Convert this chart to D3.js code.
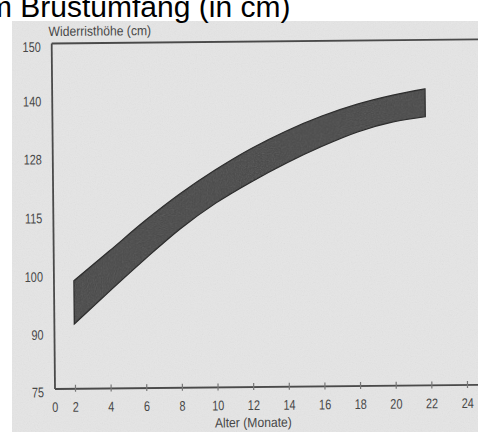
<!DOCTYPE html>
<html>
<head>
<meta charset="utf-8">
<script src="https://cdn.jsdelivr.net/npm/d3@7"></script>
<style>
  html, body { margin: 0; padding: 0; background: #ffffff; }
  svg { display: block; }
  .lbl { font-family: "Liberation Sans", Arial, sans-serif; fill: #484848; }
</style>
</head>
<body>
<svg id="chart" width="478" height="432"></svg>
<script>
// ---- data ----
const months = [2, 4, 6, 8, 10, 12, 14, 16, 18, 20, 21.8];
const upperHeight = [98.7, 105.6, 113.2, 119.4, 124.6, 129.1, 132.7, 135.7, 138.1, 139.9, 141.0];
const lowerHeight = [91.3, 96.9, 103.5, 111.2, 117.3, 121.9, 126.0, 129.5, 132.4, 134.4, 135.4];
const yTickValues = [150, 140, 128, 115, 100, 90, 75];
const xTickValues = [2, 4, 6, 8, 10, 12, 14, 16, 18, 20, 22, 24];
const titleText = "m Brustumfang (in cm)";
const yAxisTitle = "Widerristhöhe (cm)";
const xAxisTitle = "Alter (Monate)";

const band = months.map((m, i) => ({ m, lo: lowerHeight[i], hi: upperHeight[i] }));

const svg = d3.select("#chart");
const W = 478, H = 432;

// horizontally condensed text (the scan uses a narrow typeface)
function condense(sel, s) {
  sel.each(function () {
    const t = d3.select(this);
    const x0 = +(t.attr("x") || 0);
    t.attr("x", x0 / s).attr("transform", `scale(${s},1)`);
  });
}

// defs: grain noise
const defs = svg.append("defs");
const f = defs.append("filter").attr("id", "grain").attr("x", 0).attr("y", 0).attr("width", "100%").attr("height", "100%");
f.append("feTurbulence").attr("type", "fractalNoise").attr("baseFrequency", 0.85).attr("numOctaves", 2).attr("seed", 3);
f.append("feColorMatrix").attr("type", "saturate").attr("values", 0);

// scanned page background
svg.append("rect").attr("x", 12).attr("y", 21).attr("width", W - 12).attr("height", H - 21).attr("fill", "#e5e5e5");
svg.append("rect").attr("x", 12).attr("y", 21).attr("width", W - 12).attr("height", H - 21)
  .attr("filter", "url(#grain)").attr("opacity", 0.10);

// title (cropped web text)
svg.append("text")
  .attr("x", -13).attr("y", 17)
  .attr("font-family", "Liberation Sans, Arial, sans-serif")
  .attr("font-size", 30).attr("fill", "#000")
  .text(titleText);

// scales
const x = d3.scaleLinear().domain([0, 2, 24]).range([55, 75, 467]);
const y = d3.scaleLinear().domain([75, 90, 100, 115, 128, 140, 150])
  .range([389, 331.5, 273.5, 215, 156, 98, 43.5]);

const g = svg.append("g").attr("transform", "rotate(-0.55, 55, 389)");

// band
const area = d3.area()
  .x(d => x(d.m)).y0(d => y(d.lo)).y1(d => y(d.hi))
  .curve(d3.curveMonotoneX);

const cp = defs.append("clipPath").attr("id", "bandClip");
cp.append("path").datum(band).attr("d", area);

g.append("path").datum(band).attr("d", area)
  .attr("fill", "#454545").attr("stroke", "#2a2a2a").attr("stroke-width", 1.4);
g.append("rect").attr("x", 60).attr("y", 40).attr("width", 400).attr("height", 300)
  .attr("clip-path", "url(#bandClip)").attr("filter", "url(#grain)").attr("opacity", 0.22);

// frame lines
const frame = g.append("g").attr("stroke", "#4a4a4a").attr("stroke-width", 1.8).attr("fill", "none");
frame.append("line").attr("x1", 55).attr("x2", 55).attr("y1", y(150)).attr("y2", y(75));
frame.append("line").attr("x1", 55).attr("x2", 485).attr("y1", y(150)).attr("y2", y(150));
frame.append("line").attr("x1", 55).attr("x2", 485).attr("y1", y(75)).attr("y2", y(75));

// x axis
const xAxis = g.append("g").attr("transform", `translate(0, ${y(75)})`)
  .call(d3.axisBottom(x).tickValues(xTickValues).tickSize(4).tickPadding(9).tickFormat(d3.format("d")));
xAxis.select(".domain").remove();
xAxis.selectAll(".tick line").attr("stroke", "#777").attr("stroke-width", 1.2).attr("y1", -4).attr("y2", 3);
xAxis.selectAll(".tick text").attr("class", "lbl").attr("font-size", 14);
xAxis.append("text").attr("class", "lbl").attr("x", x(0)).attr("y", 23).attr("text-anchor", "middle")
  .attr("font-size", 14).text("0");
condense(xAxis.selectAll("text"), 0.78);

// y axis
const yAxis = g.append("g").attr("transform", "translate(55,0)")
  .call(d3.axisLeft(y).tickValues(yTickValues).tickSize(0).tickPadding(11).tickFormat(d3.format("d")));
yAxis.select(".domain").remove();
yAxis.selectAll(".tick text").attr("class", "lbl").attr("font-size", 14).attr("dy", "0.55em");
condense(yAxis.selectAll(".tick text"), 0.78);

// axis titles
const yt = g.append("text").attr("class", "lbl").attr("x", 52).attr("y", 36).attr("font-size", 13.5).text(yAxisTitle);
condense(yt, 0.9);
const xt = g.append("text").attr("class", "lbl").attr("x", 253).attr("y", 429).attr("text-anchor", "middle")
  .attr("font-size", 13.5).text(xAxisTitle);
condense(xt, 0.9);
</script>
</body>
</html>
